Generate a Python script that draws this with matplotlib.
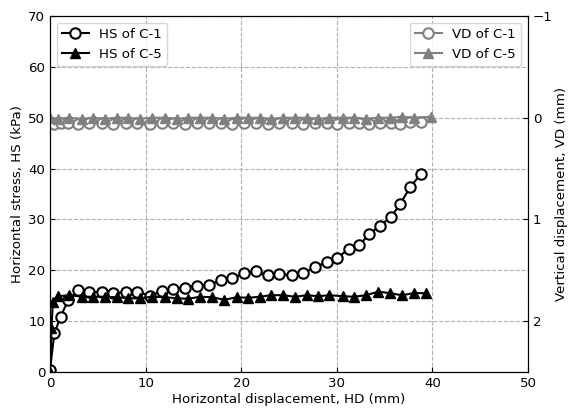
import matplotlib
matplotlib.use("Agg")
import matplotlib.pyplot as plt

# HS of C-1
hd_c1 = [0.0, 0.45, 1.12, 1.91, 2.96, 4.11, 5.41, 6.62, 7.95, 9.13, 10.46, 11.68, 12.90,
         14.12, 15.41, 16.66, 17.86, 19.07, 20.29, 21.52, 22.77, 23.99, 25.28, 26.50,
         27.72, 28.92, 30.05, 31.28, 32.32, 33.40, 34.52, 35.64, 36.61, 37.66, 38.81]
hs_c1 = [0.4, 7.6, 10.9, 14.2, 16.1, 15.8, 15.7, 15.5, 15.7, 15.8, 15.0, 15.9, 16.3,
         16.6, 17.0, 17.2, 18.0, 18.5, 19.4, 19.8, 19.0, 19.3, 19.0, 19.4,
         20.6, 21.6, 22.5, 24.2, 24.9, 27.1, 28.8, 30.4, 33.0, 36.3, 39.0]

# HS of C-5
hd_c5 = [0.0, 0.15, 0.3, 0.87, 2.02, 3.32, 4.53, 5.75, 6.98, 8.19, 9.41, 10.64, 12.03,
         13.25, 14.47, 15.69, 16.98, 18.23, 19.53, 20.74, 21.97, 23.09, 24.34, 25.63,
         26.85, 28.07, 29.22, 30.62, 31.83, 33.05, 34.34, 35.56, 36.79, 38.08, 39.33]
hs_c5 = [0.0, 8.6, 13.7, 14.9, 15.1, 14.8, 14.8, 14.8, 14.7, 14.5, 14.5, 14.8, 14.7,
         14.5, 14.4, 14.8, 14.7, 14.2, 14.7, 14.6, 14.8, 15.1, 15.1, 14.8,
         15.1, 14.9, 15.1, 14.9, 14.8, 15.1, 15.8, 15.5, 15.1, 15.5, 15.5]

# VD of C-1 and C-5
vd_c1 = [0.05, 0.06, 0.05, 0.05, 0.06, 0.05, 0.05, 0.06, 0.05, 0.05, 0.06, 0.05, 0.05,
         0.06, 0.05, 0.05, 0.05, 0.06, 0.05, 0.05, 0.06, 0.05, 0.05, 0.06,
         0.05, 0.05, 0.06, 0.05, 0.05, 0.06, 0.05, 0.05, 0.06, 0.04, 0.04]
hd_vd5 = [0.0, 0.87, 2.02, 3.32, 4.53, 5.75, 6.98, 8.19, 9.41, 10.64, 12.03,
          13.25, 14.47, 15.69, 16.98, 18.23, 19.53, 20.74, 21.97, 23.09, 24.34, 25.63,
          26.85, 28.07, 29.22, 30.62, 31.83, 33.05, 34.34, 35.56, 36.79, 38.08, 39.9]
vd_c5 = [0.0, 0.01, 0.0, 0.01, 0.0, 0.01, 0.0, 0.0, 0.01, 0.0, 0.0,
         0.01, 0.0, 0.0, 0.0, 0.01, 0.0, 0.0, 0.0, 0.01, 0.0, 0.0,
         0.0, 0.01, 0.0, 0.0, 0.0, 0.01, 0.0, 0.0, -0.01, 0.0, -0.01]

grey = "#808080"

fig = plt.figure(figsize=(5.69, 4.12), dpi=100)
ax = fig.add_axes([0.0879, 0.0971, 0.8401, 0.864])
ax2 = ax.twinx()

l1, = ax.plot(hd_c1, hs_c1, color="black", lw=1.5, marker="o", ms=7.5,
              mfc="white", mec="black", mew=1.5, label="HS of C-1")
l2, = ax.plot(hd_c5, hs_c5, color="black", lw=1.5, marker="^", ms=7.5,
              mfc="black", mec="black", label="HS of C-5")

r1, = ax2.plot(hd_c1, vd_c1, color=grey, lw=1.5, marker="o", ms=7.5,
               mfc="white", mec=grey, mew=1.5, label="VD of C-1")
r2, = ax2.plot(hd_vd5, vd_c5, color=grey, lw=1.5, marker="^", ms=7.5,
               mfc=grey, mec=grey, label="VD of C-5")

ax.set_xlim(0, 50)
ax.set_ylim(0, 70)
ax.set_xticks([0, 10, 20, 30, 40, 50])
ax.set_yticks([0, 10, 20, 30, 40, 50, 60, 70])
ax2.set_ylim(2.5, -1)
ax2.set_yticks([-1, 0, 1, 2])

ax.grid(True, color="#b0b0b0", ls="--", lw=0.8)
ax.tick_params(direction="in", labelsize=9.6)
ax2.tick_params(direction="in", labelsize=9.6)

ax.set_xlabel("Horizontal displacement, HD (mm)", fontsize=9.6, labelpad=2)
ax.set_ylabel("Horizontal stress, HS (kPa)", fontsize=9.6, labelpad=3)
ax2.set_ylabel("Vertical displacement, VD (mm)", fontsize=9.6, labelpad=2)

ax.legend(handles=[l1, l2], loc="upper left", fontsize=9.6)
ax2.legend(handles=[r1, r2], loc="upper right", fontsize=9.6)

fig.savefig("out.png", dpi=100)
